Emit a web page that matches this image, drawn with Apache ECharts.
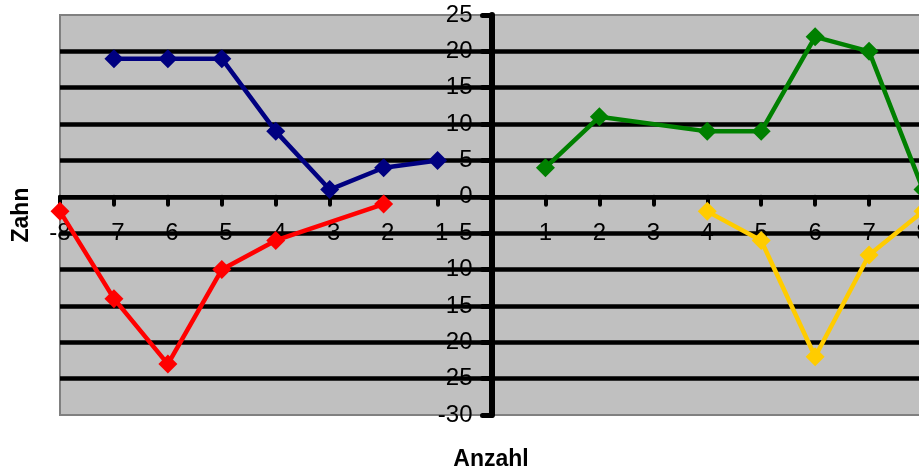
<!DOCTYPE html>
<html>
<head>
<meta charset="utf-8">
<script src="https://cdn.jsdelivr.net/npm/echarts@6/dist/echarts.min.js"></script>
<style>
  html, body { margin: 0; padding: 0; background: #ffffff; }
  #chart { width: 919px; height: 476px; }
</style>
</head>
<body>
<div id="chart"></div>
<script>
// Axis ranges
const xMin = -8, xMax = 8, xStep = 1;
const yMin = -30, yMax = 25, yStep = 5;

// Left half: negative "Anzahl"
const blueX = [-7, -6, -5, -4, -3, -2, -1];
const blueY = [19, 19, 19, 9, 1, 4, 5];
const redX = [-8, -7, -6, -5, -4, -2];
const redY = [-2, -14, -23, -10, -6, -1];

// Right half: positive "Anzahl"
const greenX = [1, 2, 4, 5, 6, 7, 8];
const greenY = [4, 11, 9, 9, 22, 20, 1];
const yellowX = [4, 5, 6, 7, 8];
const yellowY = [-2, -6, -22, -8, -2];

const FONT = '"Liberation Sans", Arial, sans-serif';

function pairs(xs, ys) {
  return xs.map((x, i) => [x, ys[i]]);
}

function lineSeries(name, xs, ys, color) {
  return {
    name: name,
    type: 'line',
    xAxisIndex: 0,
    yAxisIndex: 0,
    data: pairs(xs, ys),
    symbol: 'diamond',
    symbolSize: 19,
    lineStyle: { color: color, width: 4.5 },
    itemStyle: { color: color },
    clip: false,
    z: 10,
    animation: false
  };
}

const chart = echarts.init(document.getElementById('chart'), null, { renderer: 'canvas' });

chart.setOption({
  animation: false,
  backgroundColor: '#ffffff',
  grid: {
    left: 60, right: -4, top: 15, bottom: 61,
    show: true,
    backgroundColor: '#c0c0c0',
    borderColor: '#808080',
    borderWidth: 2,
    containLabel: false,
    outerBoundsMode: 'none'
  },
  xAxis: [{
    type: 'value', min: xMin, max: xMax, interval: xStep, position: 'bottom',
    z: 1,
    axisLine: { show: true, onZero: false, lineStyle: { color: '#000', width: 4 } },
    axisTick: { show: true, inside: false, length: 8, lineStyle: { color: '#000', width: 4, cap: 'round' } },
    splitLine: { show: false },
    axisLabel: {
      margin: 25, fontSize: 24, color: '#000', fontFamily: FONT,
      hideOverlap: false,
      formatter: v => (v === 0 ? '' : String(v))
    }
  }],
  yAxis: [
    // axis line, ticks and labels (beneath the gridlines)
    {
      type: 'value', min: yMin, max: yMax, interval: yStep, position: 'left',
      z: 1,
      axisLine: { show: true, onZero: false, lineStyle: { color: '#000', width: 6 } },
      axisTick: { show: true, inside: false, length: 9, lineStyle: { color: '#000', width: 5, cap: 'round' } },
      axisLabel: { margin: 19, fontSize: 24, color: '#000', fontFamily: FONT, hideOverlap: false, padding: [0, 0, 3, 0] },
      splitLine: { show: false }
    },
    // horizontal gridlines drawn over the labels
    {
      type: 'value', min: yMin, max: yMax, interval: yStep, position: 'right',
      z: 5,
      axisLine: { show: false, onZero: false },
      axisTick: { show: false },
      axisLabel: { show: false },
      splitLine: { show: true, showMinLine: false, showMaxLine: false, lineStyle: { color: '#000', width: 4.5 } }
    }
  ],
  graphic: [
    {
      type: 'text',
      x: 491, y: 460,
      style: {
        text: 'Anzahl', fill: '#000', font: 'bold 23px ' + FONT,
        textAlign: 'center', textVerticalAlign: 'middle'
      }
    },
    {
      type: 'text',
      x: 22, y: 215,
      rotation: Math.PI / 2,
      style: {
        text: 'Zahn', fill: '#000', font: 'bold 23px ' + FONT,
        textAlign: 'center', textVerticalAlign: 'middle'
      }
    }
  ],
  series: [
    lineSeries('Blau', blueX, blueY, '#000080'),
    lineSeries('Rot', redX, redY, '#ff0000'),
    lineSeries('Grün', greenX, greenY, '#008000'),
    lineSeries('Gelb', yellowX, yellowY, '#ffcc00')
  ]
});

// Move both axes (line, ticks and labels) so they cross at the origin.
const xZero = chart.convertToPixel({ xAxisIndex: 0 }, 0);
const xLeft = chart.convertToPixel({ xAxisIndex: 0 }, xMin);
const yZero = chart.convertToPixel({ yAxisIndex: 0 }, 0);
const yBottom = chart.convertToPixel({ yAxisIndex: 0 }, yMin);
chart.setOption({
  xAxis: [{ offset: -(yBottom - yZero) }],
  yAxis: [{ offset: -(xZero - xLeft) }, {}]
});
</script>
</body>
</html>
